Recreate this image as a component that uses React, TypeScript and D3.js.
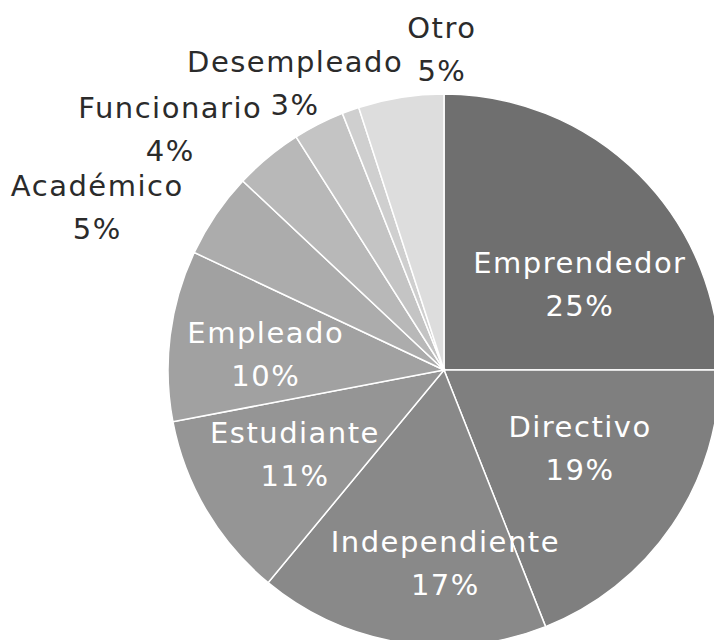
import React from 'react';
import * as d3 from 'd3';

// categories and shares (%), clockwise from 12 o'clock
const categories = ['Emprendedor', 'Directivo', 'Independiente', 'Estudiante', 'Empleado',
  'Académico', 'Funcionario', 'Desempleado', '', 'Otro'];
const shares = [25, 19, 17, 11, 10, 5, 4, 3, 1, 5];
const shownLabels = ['25%', '19%', '17%', '11%', '10%', '5%', '4%', '3%', '', '5%'];
const greys = ['#6f6f6f', '#7f7f7f', '#898989', '#959595', '#a1a1a1',
  '#acacac', '#b8b8b8', '#c4c4c4', '#cfcfcf', '#dddddd'];

const width = 714, height = 640;
const cx = 444, cy = 370, radius = 276;

// label nudges off the centroid (inside slices) or the outer ring (outside)
const nudges: { [k: string]: [number, number] } = {
  Emprendedor: [11, 40], Directivo: [-10, -20], Independiente: [29, 20],
  Estudiante: [3, -5], Empleado: [-3, 7],
  'Académico': [-50, 40], Funcionario: [-45, 36], Desempleado: [14, 34], Otro: [54, 34],
};
const outside = ['Académico', 'Funcionario', 'Desempleado', 'Otro'];

export default function App() {
  const pie = d3.pie<number>().sort(null).value(d => d);
  const arcs = pie(shares);
  const arc = d3.arc<d3.PieArcDatum<number>>().innerRadius(0).outerRadius(radius);
  const inArc = d3.arc<d3.PieArcDatum<number>>().innerRadius(radius * 0.64).outerRadius(radius * 0.64);
  const outArc = d3.arc<d3.PieArcDatum<number>>().innerRadius(radius * 1.3).outerRadius(radius * 1.3);

  return (
    <svg width={width} height={height} style={{ position: 'absolute', left: 0, top: 0, background: '#fff' }}
      fontFamily="'DejaVu Sans', sans-serif">
      <g transform={`translate(${cx},${cy})`}>
        {arcs.map((a, i) => (
          <path key={i} d={arc(a) || ''} fill={greys[i]} stroke="#fff" strokeWidth={1.5} />
        ))}
        {arcs.map((a, i) => {
          const name = categories[i];
          if (!name) return null;
          const isOut = outside.includes(name);
          const [px, py] = (isOut ? outArc : inArc).centroid(a);
          const [dx, dy] = nudges[name] || [0, 0];
          const x = px + dx, y = py + dy - 12;
          return (
            <text key={'t' + i} x={x} y={y} textAnchor="middle" fontSize={29} letterSpacing={1.5}
              fill={isOut ? '#2b2b2b' : '#fff'}>
              <tspan x={x} y={y}>{name}</tspan>
              <tspan x={x} y={y + 43}>{shownLabels[i]}</tspan>
            </text>
          );
        })}
      </g>
    </svg>
  );
}
